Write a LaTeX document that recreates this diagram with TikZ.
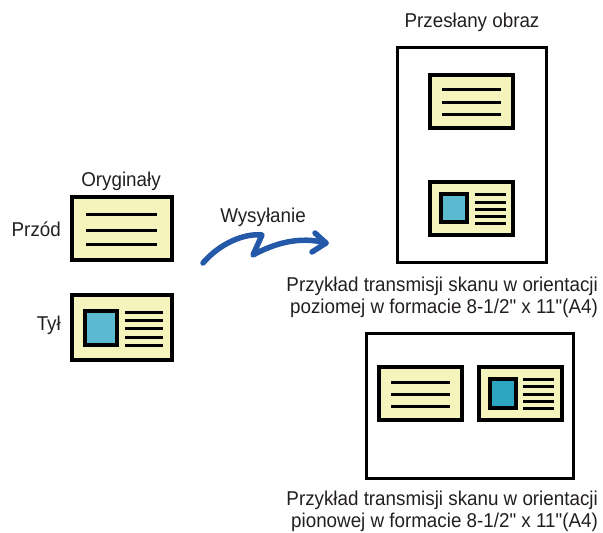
\documentclass[tikz,border=0pt]{standalone}
\usepackage{fontspec}
\setmainfont{Liberation Sans}[Ligatures=TeXOff]
\usetikzlibrary{arrows.meta}
\definecolor{cardfill}{HTML}{F5F4BC}
\definecolor{photo}{HTML}{5BBACF}
\definecolor{photodark}{HTML}{2BA5C0}
\definecolor{arrowblue}{HTML}{2458A8}
\definecolor{txt}{HTML}{231F20}
\tikzset{
  card/.style={draw=black, fill=cardfill, line width=3.2pt},
  pagebox/.style={draw=black, fill=white, line width=3pt},
  rule/.style={draw=black, line width=3pt},
  photobox/.style={draw=black, fill=photo, line width=3.2pt},
  lbl/.style={text=txt, font=\fontsize{20}{22}\selectfont, inner sep=0pt, xscale=0.94, transform shape},
  captext/.style={lbl, align=right},
  sendarrow/.style={draw=arrowblue, line width=5.5pt, line cap=round, line join=round}
}
\begin{document}
\begin{tikzpicture}[x=1pt,y=-1pt]
\useasboundingbox (0,0) rectangle (603,533);
% ---- originals
\node[lbl, anchor=base] (orig) at (121,186) {Oryginały};
\node[lbl, anchor=base east] (front) at (61,236) {Przód};
\node[lbl, anchor=base east] (back) at (61,330) {Tył};
% front card
\path[card] (72,197) rectangle (172,260);
\draw[rule] (86,214) -- (157,214) (86,230) -- (157,230) (86,244) -- (157,244);
% back card
\path[card] (72,295) rectangle (172,360);
\path[photobox] (85,311) rectangle (117,345);
\draw[rule] (125,312) -- (163,312) (125,320) -- (163,320) (125,328) -- (163,328) (125,337) -- (163,337) (125,345) -- (163,345);
% ---- arrow
\node[lbl, anchor=base] (send) at (263,222) {Wysyłanie};
\coordinate (a0) at (203,263);
\coordinate (a1) at (262,235);
\coordinate (a2) at (253,255);
\coordinate (a3) at (326,243);
\draw[sendarrow] (a0) .. controls (220,243) and (245,233) .. (a1) -- (a2) .. controls (275,243) and (300,236) .. (a3);
\draw[sendarrow] (315,233) -- (a3) -- (312,252);
% ---- top page
\node[lbl, anchor=base] (sent) at (472,27) {Przesłany obraz};
\path[pagebox] (397,47) rectangle (546,262);
\path[card] (430,75) rectangle (513,128);
\draw[rule] (442,89) -- (501,89) (442,102) -- (501,102) (442,114) -- (501,114);
\path[card] (430,182) rectangle (513,235);
\path[photobox] (441,194) rectangle (467,222);
\draw[rule] (475,194) -- (506,194) (475,202) -- (506,202) (475,209) -- (506,209) (475,216) -- (506,216) (475,223) -- (506,223);
\node[captext, anchor=north east] (cap1) at (598,277) {Przykład transmisji skanu w orientacji\\poziomej w formacie 8-1/2" x 11"(A4)};
% ---- bottom page
\path[pagebox] (366,333) rectangle (573,478);
\path[card] (379,367) rectangle (462,420);
\draw[rule] (391,382) -- (450,382) (391,394) -- (450,394) (391,406) -- (450,406);
\path[card] (479,367) rectangle (562,420);
\path[photobox, fill=photodark] (490,379) rectangle (516,408);
\draw[rule] (523,379) -- (554,379) (523,386) -- (554,386) (523,394) -- (554,394) (523,401) -- (554,401) (523,408) -- (554,408);
\node[captext, anchor=north east] (cap2) at (598,491) {Przykład transmisji skanu w orientacji\\pionowej w formacie 8-1/2" x 11"(A4)};
\end{tikzpicture}
\end{document}
